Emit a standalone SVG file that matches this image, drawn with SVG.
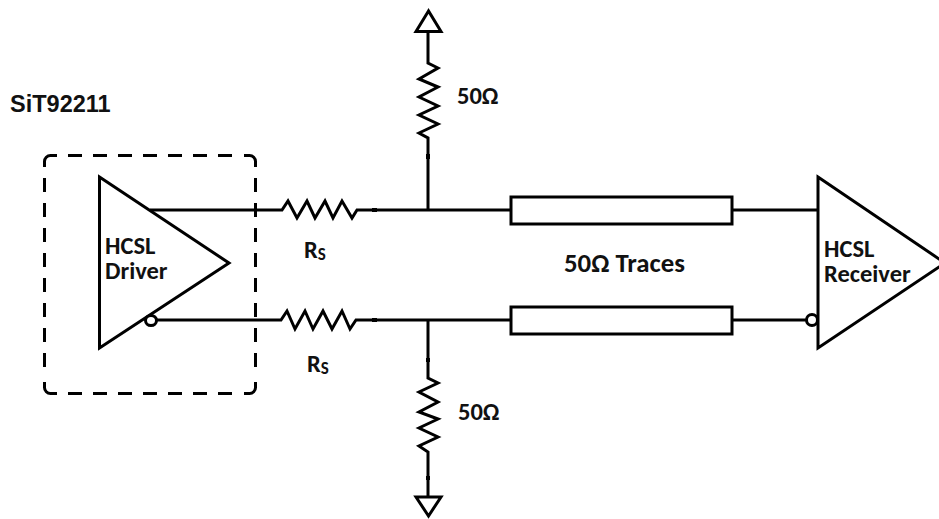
<svg xmlns="http://www.w3.org/2000/svg" width="939" height="519" viewBox="0 0 939 519">
<style>
.w{fill:none;stroke:#000;stroke-width:3}
.t{fill:none;stroke:#000;stroke-width:4}
.d{fill:none;stroke:#000;stroke-width:3;stroke-dasharray:14 11}
.s{fill:#fff;stroke:#000;stroke-width:3;stroke-linejoin:miter}
.l{font-family:Carlito,Lato,"Liberation Sans",sans-serif;font-weight:700;font-size:24.500px;fill:#111}
.a{font-family:"Liberation Sans",Arial,sans-serif;font-weight:700;font-size:23.500px;fill:#111}
</style>
<rect width="939" height="519" fill="#fff"/>
<g id="connectors">
<path class="w" d="M150 210H282L288 201L297 218L307 201L315 218L325 201L333 218L342 201L352 218L357 210H510"/>
<path class="w" d="M156 320H281L287 311L295 329L305 311L313 329L323 311L332 329L342 311L350 329L356 320H510"/>
<path class="w" d="M428 210V138L419 133L438 124L419 115L438 106L419 97L438 87L419 79L438 68L428 63V32"/>
<path class="w" d="M428 320V378L438 383L419 392L438 402L419 412L438 419L419 428L438 437L419 446L428 452V497"/>
<path class="w" d="M732 210H818M732 320H807"/>
<path class="t" d="M372 210H377M372 320H377M428 154V159M428 358V362M428 476V480"/>
</g>
<g id="sit92211"><text class="a" x="10" y="112">SiT92211</text></g>
<g id="package">
<path class="w" d="M44.500 167V161.500a6 6 0 0 1 6-6H57M244 155.500H249.500a6 6 0 0 1 6 6V167M44.500 382V387.500a6 6 0 0 0 6 6H57M244 393.500H249.500a6 6 0 0 0 6-6V382"/>
<path class="d" d="M68 155.500H232M68 393.500H232M44.500 178V368M255.500 178V368"/>
</g>
<g id="driver">
<path class="s" d="M99.500 177L229 263L99.500 348Z"/>
<ellipse cx="151" cy="320.500" rx="5.500" ry="5" class="s"/>
<text class="l" x="105" y="254">HCSL</text>
<text class="l" x="105" y="279">Driver</text>
</g>
<g id="rs1"><text class="l" x="304" y="258">R<tspan font-size="17" dy="2">S</tspan></text></g>
<g id="rs2"><text class="l" x="307" y="372">R<tspan font-size="17" dy="2">S</tspan></text></g>
<g id="r-top"><path class="s" d="M428.500 11L416 31.500H441Z"/><text class="l" x="457" y="104">50Ω</text></g>
<g id="r-bottom"><path class="s" d="M428.500 516L416 497H441Z"/><text class="l" x="458" y="420">50Ω</text></g>
<g id="trace-top"><rect class="s" x="511" y="197" width="221" height="27"/></g>
<g id="trace-bottom"><rect class="s" x="511" y="307" width="221" height="27"/></g>
<g id="traces-label"><text class="l" x="564" y="272" style="font-size:26.800px">50Ω Traces</text></g>
<g id="receiver">
<path class="s" d="M818 177L945 263L818 348Z"/>
<circle cx="812" cy="320" r="5.500" class="s"/>
<text class="l" x="824" y="257">HCSL</text>
<text class="l" x="824" y="282">Receiver</text>
</g>
</svg>
